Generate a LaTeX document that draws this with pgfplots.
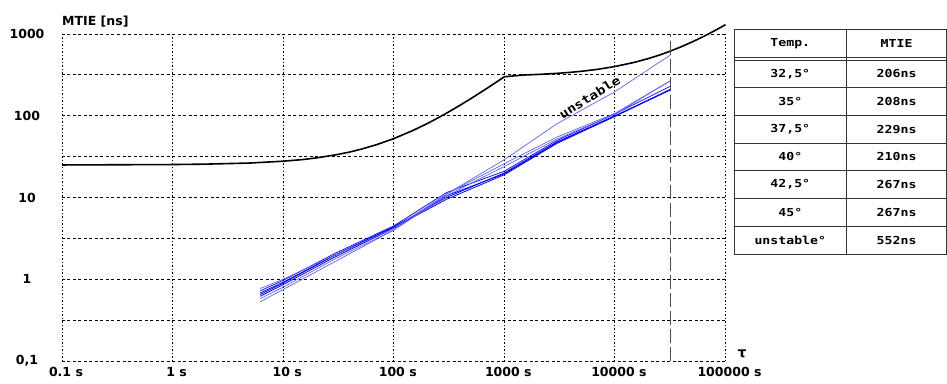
\documentclass[border=0pt]{standalone}
\usepackage{fontspec}
\setmainfont{DejaVu Sans}
\newfontfamily\tabfont[FakeStretch=1.2]{DejaVu Sans Mono}
\usepackage{pgfplots}
\pgfplotsset{compat=1.18}
\definecolor{lightblue}{RGB}{95,95,255}
\begin{document}
\begin{tikzpicture}[x=1pt,y=1pt]
\useasboundingbox (0,0) rectangle (947,383);
\begin{axis}[at={(62pt,22pt)}, anchor=south west, scale only axis,
 width=663.5pt, height=327pt,
 xmode=log, ymode=log, xmin=0.1, xmax=100000, ymin=0.1, ymax=1000,
 axis line style={draw=none}, tick style={draw=none},
 xtick={0.1,1,10,100,1000,10000},
 xticklabels={0.1 s,1 s,10 s,100 s,1000 s,10000 s},
 extra x ticks={100000},
 extra x tick labels={100000 s},
 extra x tick style={grid style={gray!70, line width=0.9pt, dash pattern=on 1.5pt off 2pt}},
 ytick={0.1,1,10,100,1000},
 yticklabels={{0,1},1,10,100,1000},
 minor ytick={0.31623,3.1623,31.623,316.23},
 xmajorgrids, ymajorgrids, yminorgrids,
 x grid style={black, line width=0.9pt, dash pattern=on 1.5pt off 2pt},
 y grid style={black, line width=0.9pt, dash pattern=on 3pt off 2.5pt},
 ticklabel style={font=\bfseries\fontsize{12.5}{14}\selectfont},
 xticklabel style={yshift=-3pt, xshift=4pt},
 yticklabel style={anchor=center, xshift=-35pt},
 clip=false,
]
% mask
\addplot[black, line width=1.6pt] coordinates {
(0.1,25) (1,25.3) (2,25.6) (5,26.4) (10,27.8) (15,29.1) (20,30.5) (30,33.3) (40,36) (50,38.8) (70,44.3) (100,52.5)
(150,66.3) (200,80) (250,93.8) (300,107.5) (400,135) (500,162.5) (600,190) (700,217.5) (800,245) (900,272.5) (1000,300)
(1500,315) (2000,320) (3000,330) (4000,340) (5000,350) (7000,370) (10000,400) (15000,450) (20000,500) (25000,550)
(30000,600) (40000,700) (50000,800) (60000,900) (70000,1000) (85000,1150) (100000,1300)};
% measurement end
\addplot[gray!60!black, line width=1pt, dash pattern=on 14pt off 4pt] coordinates {(31623,0.1) (31623,1000)};
% 32.5
\addplot[blue, line width=0.8pt] coordinates {
(6.2,0.68) (10,0.92) (30,2.0) (100,4.4) (300,10) (1000,20) (3000,48) (10000,100) (31600,206)};
% 35
\addplot[blue, line width=0.8pt] coordinates {
(6.2,0.62) (10,0.86) (30,1.9) (100,4.2) (300,10.5) (1000,19.5) (3000,47) (10000,98) (31600,208)};
% 37.5
\addplot[blue, line width=0.7pt] coordinates {
(6.2,0.72) (10,0.97) (30,2.1) (100,4.5) (300,11.5) (1000,21) (3000,50) (10000,105) (31600,229)};
% 40
\addplot[blue, line width=0.8pt] coordinates {
(6.2,0.65) (10,0.9) (30,2.0) (100,4.3) (300,9.5) (1000,19) (3000,46) (10000,99) (31600,210)};
% 42.5
\addplot[lightblue, line width=0.7pt] coordinates {
(6.2,0.77) (10,1.0) (30,2.0) (100,4.2) (300,11) (1000,26) (3000,55) (10000,107) (31600,267)};
% 45
\addplot[lightblue, line width=0.7pt] coordinates {
(6.2,0.58) (10,0.8) (30,1.8) (100,4.0) (300,10.5) (1000,24) (3000,52) (10000,104) (31600,267)};
% unstable
\addplot[lightblue, line width=0.7pt] coordinates {
(6.2,0.53) (10,0.75) (100,4.0) (300,11) (1000,29) (3000,80) (10000,197) (31600,552)};
\node[rotate=32, font=\tabfont\bfseries\fontsize{12}{14}\selectfont] at (axis cs:5900,168) {unstable};
\end{axis}
\node[anchor=base west, inner sep=0, font=\bfseries\fontsize{12.5}{14}\selectfont] at (62,357) {MTIE [ns]};
\node[font=\bfseries\fontsize{14}{16}\selectfont] at (742,29) {τ};
% table
\begin{scope}[gray!40!black, line width=0.9pt]
\draw (734,129) rectangle (946.5,354);
\draw (846.7,129) -- (846.7,354);
\draw (734,325.3) -- (946.5,325.3);
\draw (734,323) -- (946.5,323);
\foreach \yy in {295.3,267.6,239.9,212.2,184.5,156.8} \draw (734,\yy) -- (946.5,\yy);
\end{scope}
\begin{scope}[every node/.style={font=\tabfont\bfseries\fontsize{11}{13}\selectfont, text=black}]
\node at (790.3,339.6) {Temp.};
\node at (896.6,339.6) {MTIE};
\node at (790.3,309.15) {32,5°}; \node at (896.6,309.15) {206ns};
\node at (790.3,281.45) {35°};   \node at (896.6,281.45) {208ns};
\node at (790.3,253.75) {37,5°}; \node at (896.6,253.75) {229ns};
\node at (790.3,226.05) {40°};   \node at (896.6,226.05) {210ns};
\node at (790.3,198.35) {42,5°}; \node at (896.6,198.35) {267ns};
\node at (790.3,170.65) {45°};   \node at (896.6,170.65) {267ns};
\node at (790.3,142.95) {unstable°}; \node at (896.6,142.95) {552ns};
\end{scope}
\end{tikzpicture}
\end{document}
